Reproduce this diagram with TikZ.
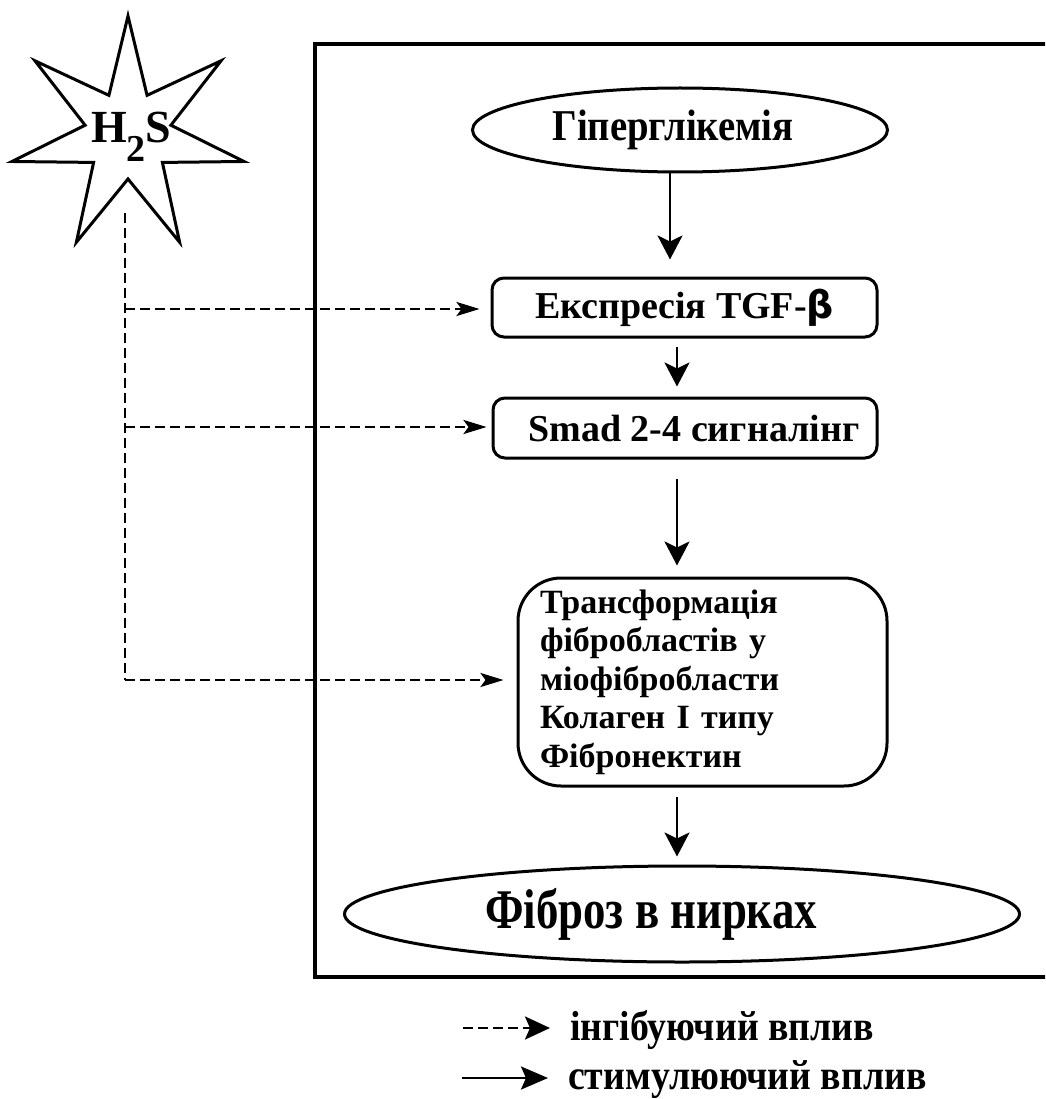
\documentclass[tikz,border=0pt]{standalone}
\usepackage{fontspec}
\setmainfont{Liberation Serif}
\newfontfamily\greekfont{DejaVu Sans}
\usepackage{graphicx}
\usetikzlibrary{shapes.geometric,arrows.meta}

\newcommand{\fs}[2]{\fontsize{#1}{#2}\selectfont}

\begin{document}
\begin{tikzpicture}[x=1pt,y=-1pt,font=\bfseries,
  frame/.style={draw,line width=3.5pt},
  oval/.style={ellipse,draw,line width=3pt,inner sep=0pt},
  stepbox/.style={rectangle,rounded corners=12pt,draw,line width=3pt,inner sep=0pt},
  flow/.style={line width=2.8pt,-{Stealth[length=24pt,width=25pt,inset=6pt]}},
  dashline/.style={line width=2.8pt,dash pattern=on 10pt off 5pt},
  inhib/.style={dashline,-{Stealth[length=23pt,width=14pt,inset=5pt]}},
  legtext/.style={anchor=base west,inner sep=0pt,font=\bfseries\fs{42}{42}}]

\clip (0,0) rectangle (1045,1099);

% outer frame (its right side runs off the page)
\draw[frame] (315,44) rectangle (1065,977);

% seven-pointed star with H2S
\draw[line width=3pt,line join=miter] (128,135)
  +(-90:119) -- +(-64.29:44) -- +(-38.57:119) -- +(-12.86:44)
  -- +(12.86:119) -- +(38.57:44) -- +(64.29:119) -- +(90:44)
  -- +(115.71:119) -- +(141.43:44) -- +(167.14:119) -- +(192.86:44)
  -- +(218.57:119) -- +(244.29:44) -- cycle;
\node[anchor=base west,inner sep=0pt,font=\bfseries\fs{46}{46}] (h2s) at (91,143)
  {H\raisebox{-0.4em}{\fs{38}{38}2}S};

% flow nodes
\node[oval,minimum width=415pt,minimum height=84pt] (gip) at (680,130)
  {\fs{44}{44}\scalebox{0.88}[1]{Гіперглікемія}\hspace*{14pt}};
\node[stepbox,minimum width=385pt,minimum height=59pt] (tgf) at (684.5,307.5)
  {\fs{38}{38}Експресія TGF-{\greekfont β}};
\node[stepbox,minimum width=384pt,minimum height=60pt] (smad) at (685,428)
  {\fs{38}{38}\hspace*{18pt}Smad 2-4 сигналінг};
\node[stepbox,rounded corners=43pt,minimum width=369pt,minimum height=208pt,
  text width=325pt,align=left,font=\bfseries\fs{34}{38.5}] (trans) at (702.5,682)
  {Трансформація\\фібробластів у\\міофібробласти\\Колаген І типу\\Фібронектин};
\node[oval,minimum width=675pt,minimum height=96pt] (fib) at (682,914)
  {\fs{56}{56}\scalebox{0.8}[1]{Фіброз в нирках}\hspace*{62pt}};

% stimulating arrows
\coordinate (c1) at (670,0);
\coordinate (c2) at (677,0);
\draw[flow,shorten >=17pt] (gip.south -| c1) -- (tgf.north -| c1);
\draw[flow,shorten <=8pt,shorten >=10pt] (tgf.south -| c2) -- (smad.north -| c2);
\draw[flow,shorten <=19pt,shorten >=11pt] (smad.south -| c2) -- (trans.north -| c2);
\draw[flow,shorten <=9pt,shorten >=8pt] (trans.south -| c2) -- (fib.north -| c2);

% inhibiting influence of H2S
\coordinate (d0) at (125,213);
\coordinate (b1) at (125,309);
\coordinate (b2) at (125,427);
\coordinate (b3) at (125,680);
\draw[dashline] (d0) -- (b3);
\draw[inhib,shorten >=11pt] (b1) -- (b1 -| tgf.west);
\draw[inhib,shorten >=5pt] (b2) -- (b2 -| smad.west);
\draw[inhib,shorten >=13pt] (b3) -- (b3 -| trans.west);

% legend
\coordinate (la1) at (463,1028);
\coordinate (la2) at (550,1028);
\coordinate (lb1) at (462,1078);
\coordinate (lb2) at (548,1078);
\draw[inhib,-{Stealth[length=25pt,width=23pt,inset=5pt]}] (la1) -- (la2);
\draw[flow,-{Stealth[length=27pt,width=23pt,inset=5pt]}] (lb1) -- (lb2);
\node[legtext] (leg1) at (570,1040) {\scalebox{0.9}[1]{інгібуючий вплив}};
\node[legtext] (leg2) at (568,1089) {\scalebox{0.9}[1]{стимулюючий вплив}};
\end{tikzpicture}
\end{document}
